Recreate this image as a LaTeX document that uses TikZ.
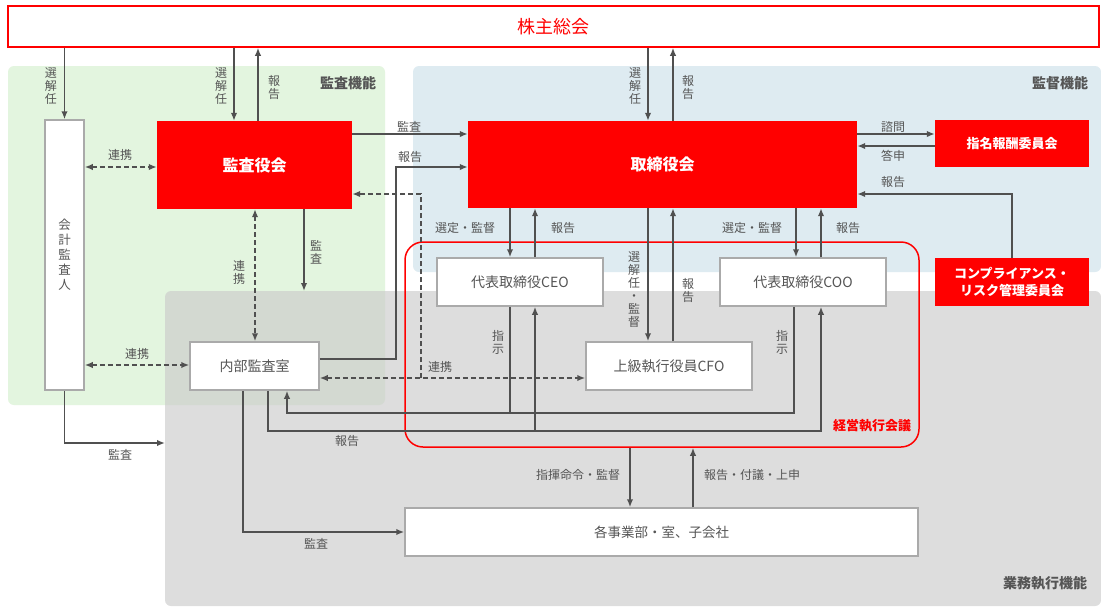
\documentclass[tikz,border=0pt]{standalone}
\usepackage{fontspec}
\setmainfont{Noto Sans CJK JP}
\usetikzlibrary{arrows.meta}
\definecolor{rd}{HTML}{FF0000}
\definecolor{lnc}{HTML}{505050}
\definecolor{tx}{HTML}{555555}
\definecolor{bd}{HTML}{AAAAAA}
\definecolor{grn}{HTML}{E3F5DF}
\definecolor{blu}{HTML}{DEEBF1}
\definecolor{gry}{HTML}{CBCBCB}
\begin{document}
\begin{tikzpicture}[x=1pt,y=-1pt,
  wbox/.style={draw=bd, line width=1.5pt, fill=white, inner sep=0, text=tx, font=\fontsize{14}{16}\selectfont},
  rbox/.style={fill=rd, inner sep=0, text=white, font=\bfseries\fontsize{16}{18}\selectfont},
  rsmall/.style={fill=rd, inner sep=0, text=white, align=center, font=\bfseries\fontsize{13}{17}\selectfont},
  tip/.tip={Latex[length=8pt,width=6.5pt]},
  arr/.style={draw=lnc, line width=1.6pt, -tip},
  plain/.style={draw=lnc, line width=1.6pt},
  darr/.style={draw=lnc, line width=1.6pt, dash pattern=on 5pt off 3pt, tip-tip},
  dend/.style={draw=lnc, line width=1.6pt, dash pattern=on 5pt off 3pt, -tip},
  lbl/.style={text=tx, font=\fontsize{12}{13}\selectfont, inner sep=0},
  vlbl/.style={lbl, align=center},
  reg/.style={text=tx, font=\bfseries\fontsize{14}{16}\selectfont, inner sep=0}
]
\useasboundingbox (0,0) rectangle (1101,606);
\fill[white] (0,0) rectangle (1101,606);
% regions
\fill[grn, rounded corners=6pt] (8,66) rectangle (385,405);
\fill[blu, rounded corners=6pt] (413,66) rectangle (1101,272);
\fill[gry, fill opacity=0.65, rounded corners=6pt] (165,291) rectangle (1101,606);
\node[reg] (rkansa) at (348,83) {監査機能};
\node[reg] (rkantoku) at (1060,83) {監督機能};
\node[reg] (rgyomu) at (1045,583) {業務執行機能};

% nodes
\node[draw=rd, line width=1.5pt, fill=white, inner sep=0, minimum width=1091, minimum height=41, text=rd, font=\fontsize{18}{20}\selectfont] (kabu) at (553.5,26.5) {株主総会};
\node[wbox, minimum width=39, minimum height=270, align=center, font=\fontsize{12.5}{15}\selectfont] (kaikei) at (64.5,255) {会\\計\\監\\査\\人};
\node[rbox, minimum width=195, minimum height=88] (kansa) at (254.5,165) {監査役会};
\node[rbox, minimum width=389, minimum height=87] (tori) at (662.5,164.5) {取締役会};
\node[rsmall, minimum width=154, minimum height=47] (shimei) at (1012,143.5) {指名報酬委員会};
\node[rsmall, minimum width=154, minimum height=48] (comp) at (1012,282) {コンプライアンス・\\リスク管理委員会};
\node[draw=rd, line width=1.5pt, rounded corners=18pt, minimum width=514, minimum height=205, inner sep=0] (keiei) at (662,344.5) {};
\node[text=rd, font=\bfseries\fontsize{13}{15}\selectfont, inner sep=0] (keieilbl) at (872,426) {経営執行会議};
\node[wbox, minimum width=166, minimum height=48] (ceo) at (520,282) {代表取締役CEO};
\node[wbox, minimum width=166, minimum height=48] (coo) at (803,282) {代表取締役COO};
\node[wbox, minimum width=166, minimum height=48] (cfo) at (669,366) {上級執行役員CFO};
\node[wbox, minimum width=129, minimum height=48] (naibu) at (254.5,366) {内部監査室};
\node[wbox, minimum width=513, minimum height=48, font=\fontsize{13.5}{16}\selectfont] (jigyo) at (661.5,532) {各事業部・室、子会社};

% shareholders connectors
\draw[arr] (kabu.south -| kaikei.north) -- (kaikei.north);
\node[vlbl] at (51,86) {選\\解\\任};
\draw[arr] (kabu.south -| 234,0) -- (kansa.north -| 234,0);
\node[vlbl] at (221,86) {選\\解\\任};
\draw[arr] (kansa.north -| 258,0) -- (kabu.south -| 258,0);
\node[vlbl] at (274,87) {報\\告};
\draw[arr] (kabu.south -| 648,0) -- (tori.north -| 648,0);
\node[vlbl] at (635,86) {選\\解\\任};
\draw[arr] (tori.north -| 673,0) -- (kabu.south -| 673,0);
\node[vlbl] at (688,87) {報\\告};

% audit function
\draw[darr] (kaikei.east |- 0,167) -- (kansa.west |- 0,167);
\node[lbl] at (120,155) {連携};
\draw[arr] (kansa.east |- 0,134) -- (tori.west |- 0,134);
\node[lbl] at (409,127) {監査};
\draw[arr] (naibu.east |- 0,359) -- (396,359) -- (396,167) -- (tori.west |- 0,167);
\node[lbl] at (410,157) {報告};
\draw[darr] (naibu.east |- 0,378) -- (cfo.west |- 0,378);
\draw[dend] (421,378) -- (421,194) -- (kansa.east |- 0,194);
\node[lbl] at (440,367) {連携};
\draw[darr] (kansa.south -| 255,0) -- (naibu.north -| 255,0);
\node[vlbl] at (239,272) {連\\携};
\draw[arr] (kansa.south -| 304,0) -- (304,291);
\node[vlbl] at (316,252) {監\\査};
\draw[darr] (kaikei.east |- 0,365) -- (naibu.west |- 0,365);
\node[lbl] at (137,354) {連携};
\draw[arr] (kaikei.south) |- (165,443);
\node[lbl] at (120,455) {監査};

% board to executives
\draw[arr] (tori.south -| 510,0) -- (ceo.north -| 510,0);
\node[lbl] at (465,228) {選定・監督};
\draw[arr] (ceo.north -| 535,0) -- (tori.south -| 535,0);
\node[lbl] at (563,228) {報告};
\draw[arr] (tori.south -| 648,0) -- (cfo.north -| 648,0);
\node[vlbl] at (634,290) {選\\解\\任\\・\\監\\督};
\draw[arr] (cfo.north -| 673,0) -- (tori.south -| 673,0);
\node[vlbl] at (688,290) {報\\告};
\draw[arr] (tori.south -| 796,0) -- (coo.north -| 796,0);
\node[lbl] at (752,228) {選定・監督};
\draw[arr] (coo.north -| 821,0) -- (tori.south -| 821,0);
\node[lbl] at (848,228) {報告};

% committees
\draw[arr] (tori.east |- 0,134) -- (shimei.west |- 0,134);
\node[lbl] at (893,127) {諮問};
\draw[arr] (shimei.west |- 0,146) -- (tori.east |- 0,146);
\node[lbl] at (893,156) {答申};
\draw[arr] (comp.north) |- (tori.east |- 0,194);
\node[lbl] at (893,182) {報告};

% inside management meeting
\draw[plain] (ceo.south -| 510,0) -- (510,413);
\draw[arr] (coo.south -| 794,0) -- (794,413) -- (287,413) -- (naibu.south -| 287,0);
\node[vlbl] at (498,342) {指\\示};
\node[vlbl] at (782,342) {指\\示};
\draw[arr] (naibu.south -| 268,0) -- (268,431) -- (821,431) -- (coo.south -| 821,0);
\draw[arr] (535,431) -- (ceo.south -| 535,0);
\node[lbl] at (347,441) {報告};
\draw[arr] (naibu.south -| 243,0) |- (jigyo.west);
\node[lbl] at (316,544) {監査};

% management to business units
\draw[arr] (keiei.south -| 630,0) -- (jigyo.north -| 630,0);
\node[lbl] at (578,475) {指揮命令・監督};
\draw[arr] (jigyo.north -| 693,0) -- (keiei.south -| 693,0);
\node[lbl] at (752,475) {報告・付議・上申};
\end{tikzpicture}
\end{document}
